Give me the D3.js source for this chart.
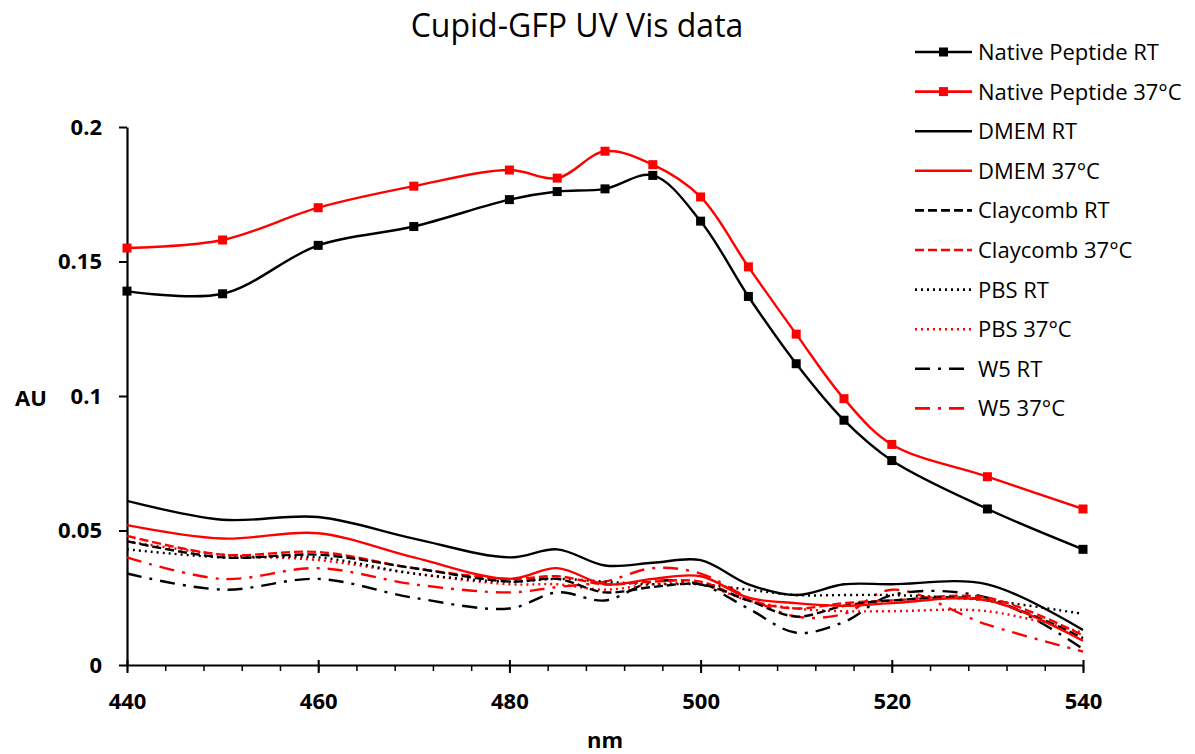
<!DOCTYPE html>
<html>
<head>
<meta charset="utf-8">
<script src="https://cdn.jsdelivr.net/npm/d3@7"></script>
<style>
  body { margin: 0; background: #fff; }
  text { font-family: "Open Sans", "Liberation Sans", sans-serif; }
</style>
</head>
<body>
<div id="chart-div"></div>
<script>
// wavelengths (nm) shared by every series
const wavelengths = [440, 450, 460, 470, 480, 485, 490, 495, 500, 505, 510, 515, 520, 530, 540];

// absorbance readings
const nativeRT  = [0.139, 0.138, 0.156, 0.163, 0.173, 0.176, 0.177, 0.182, 0.165, 0.137, 0.112, 0.091, 0.076, 0.058, 0.043];
const native37  = [0.155, 0.158, 0.170, 0.178, 0.184, 0.181, 0.191, 0.186, 0.174, 0.148, 0.123, 0.099, 0.082, 0.070, 0.058];
const dmemRT    = [0.061, 0.054, 0.055, 0.047, 0.040, 0.043, 0.037, 0.038, 0.039, 0.030, 0.026, 0.030, 0.030, 0.030, 0.013];
const dmem37    = [0.052, 0.047, 0.049, 0.040, 0.032, 0.036, 0.030, 0.032, 0.033, 0.025, 0.023, 0.022, 0.023, 0.024, 0.009];
const claycombRT = [0.046, 0.040, 0.041, 0.036, 0.031, 0.032, 0.027, 0.029, 0.030, 0.024, 0.018, 0.022, 0.024, 0.024, 0.010];
const claycomb37 = [0.048, 0.041, 0.042, 0.036, 0.032, 0.033, 0.030, 0.031, 0.031, 0.024, 0.021, 0.023, 0.024, 0.025, 0.011];
const pbsRT     = [0.043, 0.040, 0.040, 0.034, 0.031, 0.032, 0.031, 0.030, 0.030, 0.028, 0.026, 0.026, 0.026, 0.024, 0.019];
const pbs37     = [0.046, 0.041, 0.039, 0.034, 0.030, 0.030, 0.028, 0.030, 0.030, 0.024, 0.021, 0.020, 0.020, 0.020, 0.012];
const w5RT      = [0.034, 0.028, 0.032, 0.025, 0.021, 0.027, 0.024, 0.031, 0.030, 0.021, 0.012, 0.016, 0.026, 0.025, 0.006];
const w537      = [0.040, 0.032, 0.036, 0.030, 0.027, 0.029, 0.031, 0.036, 0.034, 0.025, 0.018, 0.019, 0.028, 0.015, 0.005];

const yTickValues = [0, 0.05, 0.1, 0.15, 0.2];
const yTickLabels = ["0", "0.05", "0.1", "0.15", "0.2"];
const xTickValues = [440, 460, 480, 500, 520, 540];

const seriesNames = ["Native Peptide RT", "Native Peptide 37°C", "DMEM RT", "DMEM 37°C",
  "Claycomb RT", "Claycomb 37°C", "PBS RT", "PBS 37°C", "W5 RT", "W5 37°C"];
const seriesValues = [nativeRT, native37, dmemRT, dmem37, claycombRT, claycomb37, pbsRT, pbs37, w5RT, w537];

// styling per series (colour, dash pattern, markers)
const black = "#000000", red = "#ff0000";
const styles = [
  {color: black, dash: null, marker: true},
  {color: red, dash: null, marker: true},
  {color: black, dash: null},
  {color: red, dash: null},
  {color: black, dash: "9,4"},
  {color: red, dash: "9,4"},
  {color: black, dash: "2,4"},
  {color: red, dash: "2,4"},
  {color: black, dash: "15,8,3,8"},
  {color: red, dash: "15,8,3,8"}
];

const series = seriesNames.map((name, i) => ({
  name: name,
  style: styles[i],
  points: wavelengths.map((w, j) => ({x: w, y: seriesValues[i][j]}))
}));

draw();

function draw () {
  const width = 1195;
  const height = 754;
  const marginTop = 127;
  const marginLeft = 127;
  const plotRight = 1083;
  const plotBottom = 665;

  const svg = d3.select("#chart-div").append("svg")
    .attr("width", width)
    .attr("height", height);

  const x = d3.scaleLinear()
    .domain([440, 540])
    .range([marginLeft, plotRight]);

  const y = d3.scaleLinear()
    .domain([0, 0.2])
    .range([plotBottom, marginTop]);

  // title
  svg.append("text")
    .attr("x", 577).attr("y", 37)
    .attr("text-anchor", "middle")
    .attr("font-size", 32)
    .text("Cupid-GFP UV Vis data");

  // x axis: minor ticks every 4 nm, major every 20
  svg.append("g")
    .attr("transform", `translate(0,${plotBottom})`)
    .call(d3.axisBottom(x).tickValues(d3.range(440, 541, 4)).tickSize(6).tickFormat(""))
    .call(g => g.select(".domain").remove())
    .call(g => g.selectAll("line").attr("stroke-width", 1.5));

  const xAxis = svg.append("g")
    .attr("transform", `translate(0,${plotBottom})`)
    .call(d3.axisBottom(x).tickValues(xTickValues).tickSize(8).tickSizeOuter(0).tickPadding(20).tickFormat(d3.format("d")));
  xAxis.select(".domain").attr("stroke-width", 2.2);
  xAxis.selectAll(".tick line").attr("y1", -5).attr("stroke-width", 2);
  xAxis.selectAll("text")
    .attr("font-size", 22).attr("font-weight", "bold").attr("fill", "#000");

  // y axis
  const yAxis = svg.append("g")
    .attr("transform", `translate(${marginLeft},0)`)
    .call(d3.axisLeft(y).tickValues(yTickValues).tickSize(8).tickSizeOuter(0).tickPadding(17)
      .tickFormat((d, i) => yTickLabels[i]));
  yAxis.select(".domain").attr("stroke-width", 2.2);
  yAxis.selectAll(".tick line").attr("stroke-width", 2);
  yAxis.selectAll("text")
    .attr("font-size", 22).attr("font-weight", "bold").attr("fill", "#000");

  // axis titles
  svg.append("text")
    .attr("x", 31).attr("y", 406)
    .attr("text-anchor", "middle")
    .attr("font-size", 22).attr("font-weight", "bold")
    .text("AU");
  svg.append("text")
    .attr("x", 605).attr("y", 748)
    .attr("text-anchor", "middle")
    .attr("font-size", 22).attr("font-weight", "bold")
    .text("nm");

  const line = d3.line()
    .x(d => x(d.x))
    .y(d => y(d.y))
    .curve(d3.curveCatmullRom.alpha(0.5));

  // lines, drawn from the last legend item up so the native ones sit on top
  svg.append("g").selectAll("path")
    .data(series.slice().reverse())
    .join("path")
      .attr("d", d => line(d.points))
      .attr("fill", "none")
      .attr("stroke", d => d.style.color)
      .attr("stroke-width", 2.4)
      .attr("stroke-dasharray", d => d.style.dash);

  // square markers for the native peptide series
  const markerSize = 9;
  svg.append("g").selectAll("g")
    .data(series.filter(s => s.style.marker))
    .join("g")
      .attr("fill", d => d.style.color)
    .selectAll("rect")
    .data(d => d.points)
    .join("rect")
      .attr("x", d => x(d.x) - markerSize / 2)
      .attr("y", d => y(d.y) - markerSize / 2)
      .attr("width", markerSize)
      .attr("height", markerSize);

  // legend
  const legend = svg.append("g").attr("transform", "translate(915,52)");
  const item = legend.selectAll("g")
    .data(series)
    .join("g")
      .attr("transform", (d, i) => `translate(0,${i * 39.6})`);

  item.append("line")
    .attr("x1", 0).attr("x2", 57)
    .attr("stroke", d => d.style.color)
    .attr("stroke-width", 2.6)
    .attr("stroke-dasharray", d => d.style.dash);

  item.filter(d => d.style.marker).append("rect")
    .attr("x", 28.5 - markerSize / 2).attr("y", -markerSize / 2)
    .attr("width", markerSize).attr("height", markerSize)
    .attr("fill", d => d.style.color);

  item.append("text")
    .attr("x", 63).attr("y", 8)
    .attr("font-size", 22)
    .text(d => d.name);
}
</script>
</body>
</html>
